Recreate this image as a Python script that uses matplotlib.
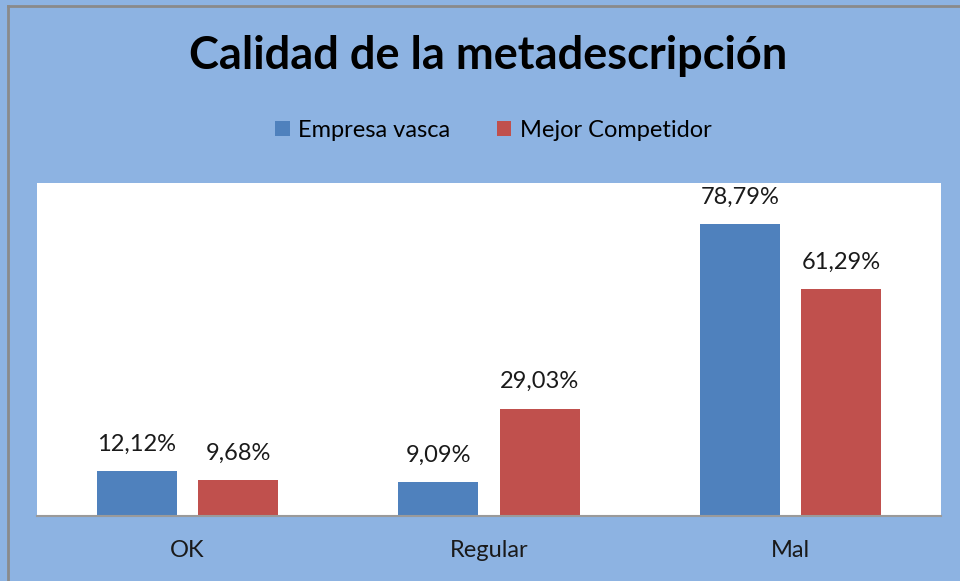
import matplotlib.pyplot as plt
import numpy as np
from matplotlib.lines import Line2D

categories = ['OK', 'Regular', 'Mal']
empresa_vasca = [12.12, 9.09, 78.79]
mejor_competidor = [9.68, 29.03, 61.29]
series_names = ['Empresa vasca', 'Mejor Competidor']

plt.rcParams['font.family'] = ['Lato', 'DejaVu Sans']

bg = '#8DB3E2'
blue = '#4F81BD'
red = '#C0504D'

fig = plt.figure(figsize=(9.6, 5.81), dpi=100, facecolor=bg)
ax = fig.add_axes([0.0385, 0.1119, 0.9417, 0.5731])
ax.set_facecolor('white')

x = np.arange(len(categories))
w = 0.265
off = 0.168
b1 = ax.bar(x - off, empresa_vasca, w, color=blue, label=series_names[0], zorder=2)
b2 = ax.bar(x + off, mejor_competidor, w, color=red, label=series_names[1], zorder=2)

for bars, vals in [(b1, empresa_vasca), (b2, mejor_competidor)]:
    for rect, v in zip(bars, vals):
        ax.annotate(f'{v:.2f}%'.replace('.', ','),
                    (rect.get_x() + rect.get_width() / 2, rect.get_height()),
                    xytext=(0, 27), textcoords='offset pixels',
                    ha='center', va='center', fontsize=17, color='#1a1a1a')

ax.set_xlim(-0.5, 2.5)
ax.set_ylim(0, 90)
ax.set_xticks(x)
ax.set_xticklabels(categories, fontsize=17, color='#1a1a1a')
ax.tick_params(axis='x', length=0, pad=17)
ax.set_yticks([])
for s in ['top', 'right', 'left']:
    ax.spines[s].set_visible(False)
ax.spines['bottom'].set_color('#9a9a9a')
ax.spines['bottom'].set_linewidth(1.5)

fig.text(0.508, 0.903, 'Calidad de la metadescripción', ha='center', va='center',
         fontsize=32.5, fontweight='bold', color='black')

fig.legend(handles=[b1, b2], loc='center', bbox_to_anchor=(0.514, 0.775), ncol=2,
           frameon=False, fontsize=17, handlelength=0.6, handleheight=0.6,
           handletextpad=0.35, columnspacing=2.0)

# gray frame edges visible at top and left of the screenshot
fig.add_artist(Line2D([8 / 960, 8 / 960], [0, 575 / 581], color='#8a8a8a', lw=2))
fig.add_artist(Line2D([8 / 960, 1], [575 / 581, 575 / 581], color='#8a8a8a', lw=2))

fig.savefig('out.png', dpi=100, facecolor=bg)
